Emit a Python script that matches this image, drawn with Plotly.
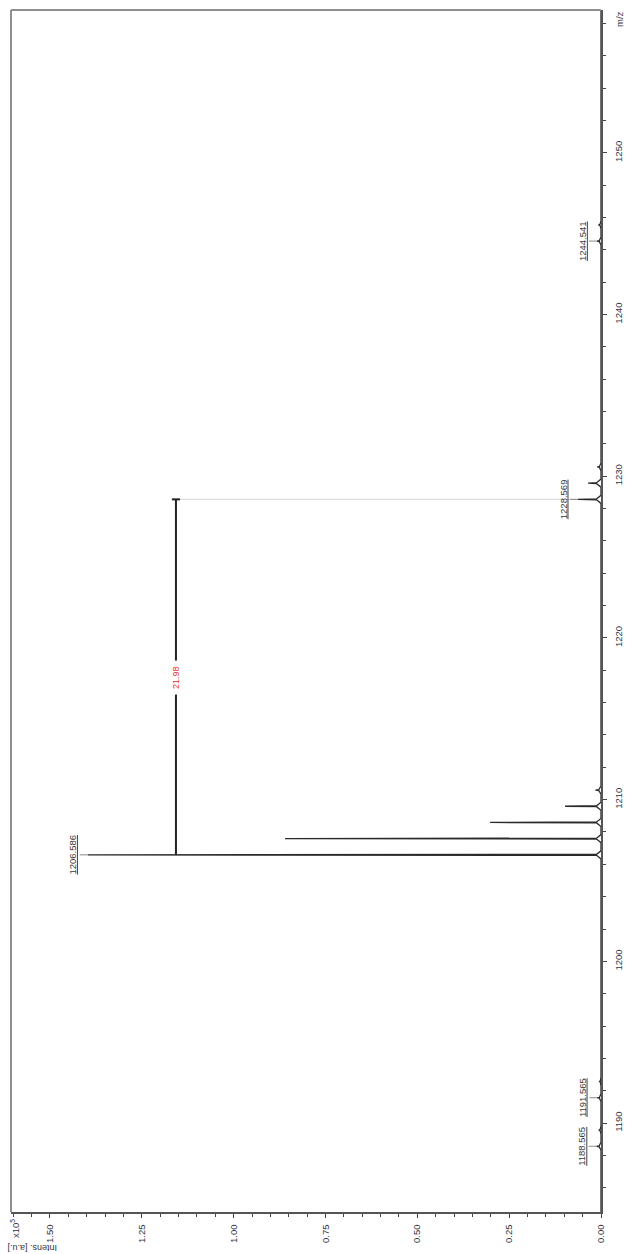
import plotly.graph_objects as go

# Centroid peak list (m/z) and intensities in units of 10^5 a.u.
peak_mz = [1188.565, 1189.568, 1191.565, 1192.568,
           1206.586, 1207.589, 1208.590, 1209.592, 1210.594,
           1228.569, 1229.572, 1230.574,
           1244.541, 1245.544]
peak_int = [0.012, 0.006, 0.010, 0.005,
            1.397, 0.860, 0.302, 0.098, 0.015,
            0.063, 0.035, 0.010,
            0.011, 0.007]

# Peaks that carry an m/z label
labeled_mz = [1188.565, 1191.565, 1206.586, 1228.569, 1244.541]

# Mass-difference marker between two labeled peaks
delta_from = 1206.586
delta_to = 1228.569

mz_range = [1184.50, 1258.83]
int_range = [1.606, 0.0]
int_ticks = [0.00, 0.25, 0.50, 0.75, 1.00, 1.25, 1.50]

# Profile trace: baseline plus a narrow peak shape around each centroid
xs, ys = [0.0], [mz_range[0]]
for mz, h in sorted(zip(peak_mz, peak_int)):
    foot = min(0.012, h * 0.4)
    for dm, v in [(-0.25, 0.0), (-0.03, foot), (0.0, h), (0.03, foot), (0.25, 0.0)]:
        ys.append(mz + dm)
        xs.append(v)
xs.append(0.0)
ys.append(mz_range[1])

fig = go.Figure()
fig.add_trace(go.Scatter(x=xs, y=ys, mode="lines",
                         line=dict(color="#2a2a2a", width=1.3),
                         hoverinfo="skip", showlegend=False))

FONT = "Liberation Sans, Arial, sans-serif"
label_font = dict(family=FONT, size=9.5, color="#3a3a3a")
tick_font = dict(family=FONT, size=9.5, color="#333344")

annotations = []
for mz in labeled_mz:
    h = peak_int[peak_mz.index(mz)]
    annotations.append(dict(
        x=h, y=mz, xref="x", yref="y", text=f"<u>{mz:.3f}</u>",
        textangle=-90, font=label_font, showarrow=True, arrowhead=0,
        arrowwidth=1, arrowcolor="#888888", ax=-15, ay=0, standoff=0))

# Mass-difference marker
h_to = peak_int[peak_mz.index(delta_to)]
marker_x = 1.157
shapes = [
    dict(type="line", xref="x", yref="y", x0=marker_x, x1=h_to, y0=delta_to, y1=delta_to,
         line=dict(color="#d6d6d6", width=1)),
    dict(type="line", xref="x", yref="y", x0=marker_x, x1=marker_x, y0=delta_from, y1=delta_to,
         line=dict(color="#222222", width=2)),
    dict(type="line", xref="x", yref="y", x0=marker_x + 0.011, x1=marker_x - 0.011,
         y0=delta_to, y1=delta_to, line=dict(color="#222222", width=2)),
    # frame on the left and top
    dict(type="line", xref="paper", yref="paper", x0=0, x1=0, y0=0, y1=1,
         line=dict(color="#8f8f8f", width=2)),
    dict(type="line", xref="paper", yref="paper", x0=0, x1=1, y0=1, y1=1,
         line=dict(color="#8f8f8f", width=2)),
]
annotations.append(dict(
    x=marker_x, y=(delta_from + delta_to) / 2, xref="x", yref="y",
    text=f"{delta_to - delta_from:.2f}", textangle=-90, showarrow=False,
    font=dict(family=FONT, size=9, color="#e8302a"),
    bgcolor="white", borderpad=5))

# Axis captions
annotations += [
    dict(x=0.0068, y=-0.0141, xref="paper", yref="paper", text="x10<sup>5</sup>",
         textangle=-90, showarrow=False, font=tick_font,
         xanchor="center", yanchor="middle"),
    dict(x=0.0356, y=-0.030, xref="paper", yref="paper", text="Intens. [a.u.]",
         textangle=180, showarrow=False, font=dict(family=FONT, size=9, color="#333344"),
         xanchor="center", yanchor="middle"),
    dict(x=1.0305, y=0.9925, xref="paper", yref="paper", text="m/z",
         textangle=-90, showarrow=False, font=tick_font,
         xanchor="center", yanchor="middle"),
]

fig.update_layout(
    width=625, height=1254,
    margin=dict(l=11, r=24, t=10, b=42, autoexpand=False),
    paper_bgcolor="white", plot_bgcolor="white",
    showlegend=False,
    shapes=shapes, annotations=annotations,
    xaxis=dict(range=int_range, tickvals=int_ticks,
               ticktext=[f"{v:.2f}" for v in int_ticks],
               tickangle=-90, ticks="outside", ticklen=4, tickcolor="#444",
               ticklabelstandoff=3, automargin=False,
               minor=dict(dtick=0.05, tick0=0, ticks="outside", ticklen=3, tickcolor="#444"),
               showline=True, linecolor="#555555", linewidth=1.5,
               showgrid=False, zeroline=False, tickfont=tick_font),
    yaxis=dict(range=mz_range, side="right", tick0=1190, dtick=10,
               tickangle=-90, ticks="outside", ticklen=4, tickcolor="#444",
               ticklabelstandoff=4, automargin=False,
               minor=dict(dtick=2, tick0=1190, ticks="outside", ticklen=3, tickcolor="#444"),
               showline=True, linecolor="#555555", linewidth=1.5,
               showgrid=False, zeroline=False, tickfont=tick_font),
)

fig.write_html("out.html")
